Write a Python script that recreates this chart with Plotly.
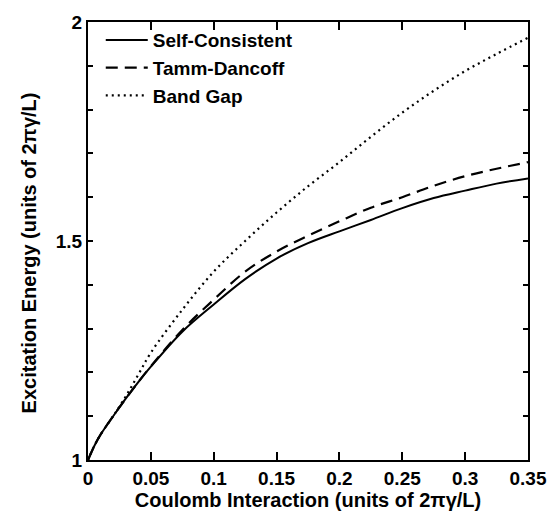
import plotly.graph_objects as go

coulomb = [0.0, 0.005, 0.01, 0.02, 0.03, 0.04, 0.05, 0.075, 0.1, 0.125, 0.15,
           0.175, 0.2, 0.225, 0.25, 0.275, 0.3, 0.325, 0.35]
self_consistent = [1.0, 1.032, 1.058, 1.10, 1.14, 1.178, 1.213, 1.293, 1.355, 1.413, 1.46,
                   1.495, 1.522, 1.548, 1.575, 1.598, 1.615, 1.631, 1.643]
tamm_dancoff = [1.0, 1.032, 1.058, 1.10, 1.14, 1.178, 1.214, 1.297, 1.366, 1.43, 1.476,
                1.512, 1.545, 1.576, 1.60, 1.626, 1.648, 1.665, 1.68]
band_gap = [1.0, 1.032, 1.058, 1.10, 1.145, 1.195, 1.245, 1.343, 1.43, 1.50, 1.565,
            1.625, 1.68, 1.738, 1.793, 1.843, 1.888, 1.927, 1.964]

x_ticks = [0, 0.05, 0.1, 0.15, 0.2, 0.25, 0.3, 0.35]
x_ticktext = ["0", "0.05", "0.1", "0.15", "0.2", "0.25", "0.3", "0.35"]
y_ticks = [1.0, 1.1, 1.2, 1.3, 1.4, 1.5, 1.6, 1.7, 1.8, 1.9, 2.0]
y_ticktext = ["1", "", "", "", "", "1.5", "", "", "", "", "2"]

x_title = "Coulomb Interaction (units of 2πγ/L)"
y_title = "Excitation Energy (units of 2πγ/L)"

FONT = "Liberation Sans, Arial, sans-serif"
FS = 19
TFS = 20

def bold(t):
    return f"<b>{t}</b>" if t else ""

fig = go.Figure()
fig.add_trace(go.Scatter(x=coulomb, y=self_consistent, mode="lines", name="<b>Self-Consistent</b>",
                         line=dict(color="black", width=2, shape="spline")))
fig.add_trace(go.Scatter(x=coulomb, y=tamm_dancoff, mode="lines", name="<b>Tamm-Dancoff</b>",
                         line=dict(color="black", width=2.2, dash="12px,7px", shape="spline")))
fig.add_trace(go.Scatter(x=coulomb, y=band_gap, mode="lines", name="<b>Band Gap</b>",
                         line=dict(color="black", width=2.2, dash="2px,4px", shape="spline")))

axis_common = dict(
    showline=True, linecolor="black", linewidth=2, mirror="ticks",
    ticks="inside", tickcolor="black", tickwidth=2,
    showgrid=False, zeroline=False,
    tickfont=dict(family=FONT, size=FS, color="black"),
)

fig.update_xaxes(
    range=[0, 0.35], tickvals=x_ticks, ticktext=[bold(t) for t in x_ticktext], ticklen=8,
    title=dict(text=bold(x_title),
               font=dict(family=FONT, size=TFS, color="black"), standoff=3),
    **axis_common,
)
fig.update_yaxes(
    range=[1, 2], tickvals=y_ticks, ticktext=[bold(t) for t in y_ticktext], ticklen=5,
    **axis_common,
)

fig.add_annotation(
    text=bold(y_title), textangle=-90, showarrow=False,
    xref="paper", yref="paper", x=-0.135, y=0.473, xanchor="center", yanchor="middle",
    font=dict(family=FONT, size=TFS, color="black"),
)

fig.update_layout(
    width=559, height=518,
    margin=dict(l=88, r=28, t=21, b=57),
    paper_bgcolor="white", plot_bgcolor="white",
    showlegend=True,
    legend=dict(x=0.029, y=1.002, xanchor="left", yanchor="top",
                font=dict(family=FONT, size=FS, color="black"),
                bgcolor="rgba(0,0,0,0)", itemwidth=42, tracegroupgap=0),
)

fig.write_html("out.html", config={"displayModeBar": False},
               post_script="document.body.style.margin='0px';")
